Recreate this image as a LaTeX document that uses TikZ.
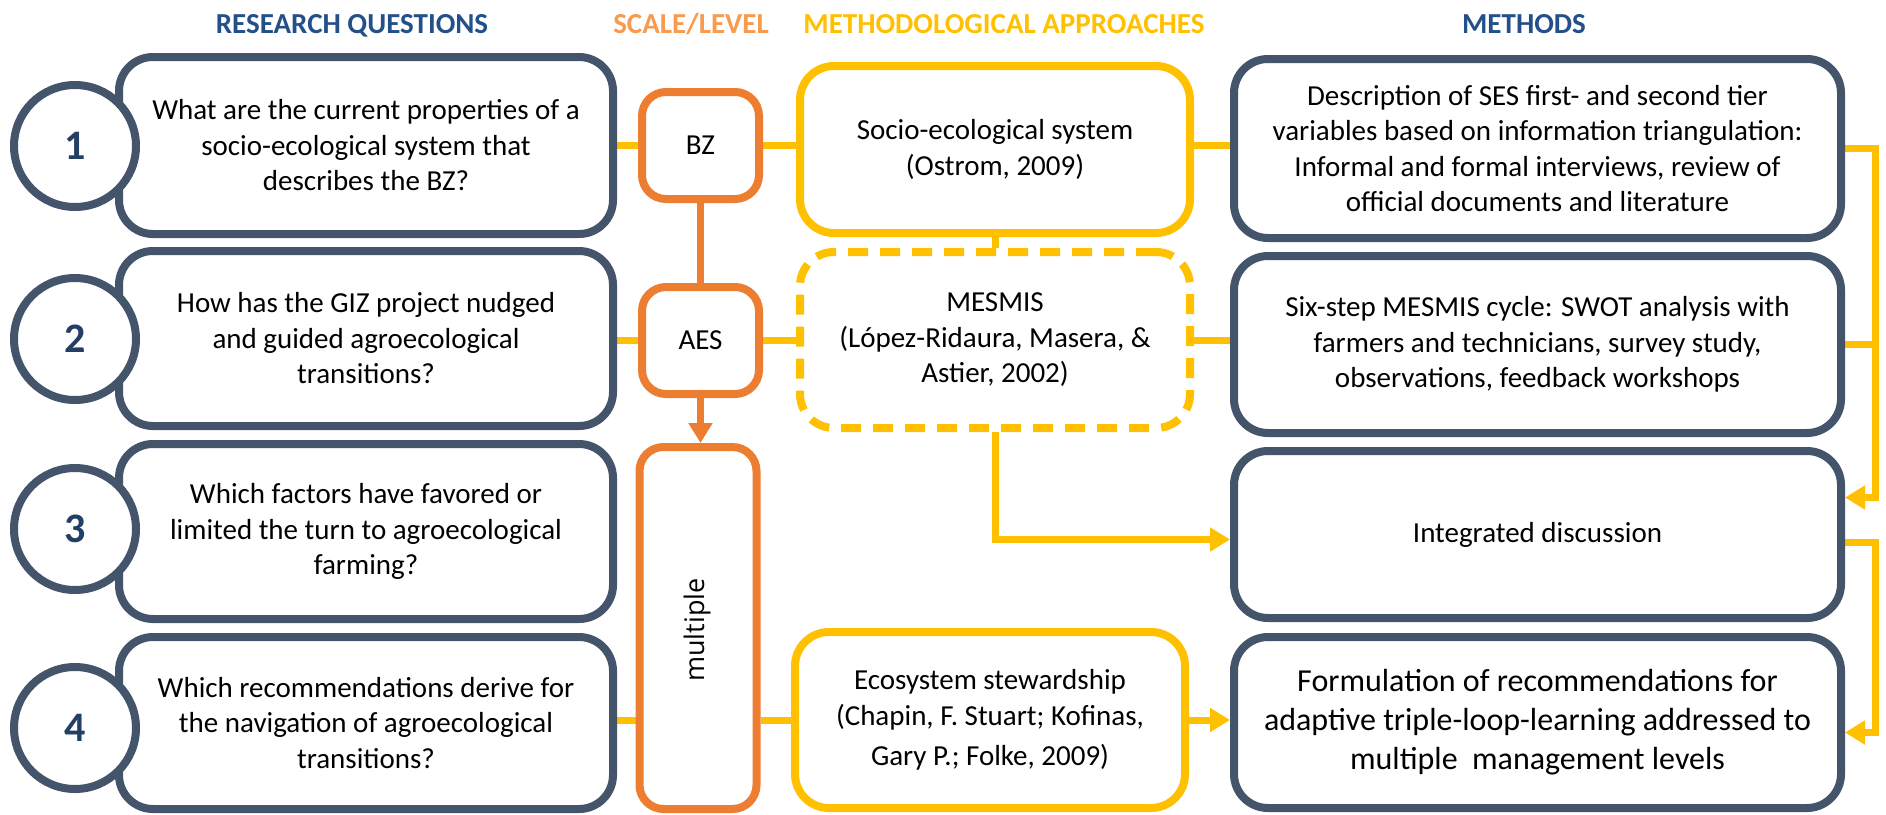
\documentclass[tikz,border=0pt]{standalone}
\usepackage{fontspec}
\setmainfont{Carlito}
\newfontfamily\labelsans{Open Sans}
\usetikzlibrary{arrows.meta}
\pgfdeclarelayer{background}
\pgfdeclarelayer{canvas}
\pgfsetlayers{canvas,background,main}
\definecolor{slate}{HTML}{44546A}
\definecolor{tangerine}{HTML}{ED7D31}
\definecolor{amber}{HTML}{FFC000}
\definecolor{navyhead}{HTML}{24508A}
\definecolor{orangehead}{HTML}{F79B4F}
\definecolor{digit}{HTML}{233F63}

\begin{document}
\begin{tikzpicture}[x=1pt,y=-1pt,
  every node/.style={inner sep=0pt},
  bodytext/.style={align=center, font=\fontsize{29}{35.5}\selectfont},
  head/.style={anchor=base, font=\bfseries\fontsize{29}{35}\selectfont},
  qbox/.style={bodytext, draw=slate, line width=8pt, rounded corners=34pt, fill=white,
    minimum width=494pt},
  numring/.style={circle, draw=slate, line width=8pt, fill=white, minimum size=122pt,
    text=digit, font=\bfseries\fontsize{42}{42}\selectfont},
  lvlbox/.style={bodytext, draw=tangerine, line width=8pt, rounded corners=24pt, fill=white,
    minimum width=117pt},
  apbox/.style={bodytext, draw=amber, line width=8pt, rounded corners=34pt, fill=white,
    minimum width=390pt},
  mbox/.style={bodytext, draw=slate, line width=8pt, rounded corners=34pt, fill=white,
    minimum width=607pt},
  yline/.style={draw=amber, line width=7pt},
  yarrow/.style={yline, -{Triangle[length=20pt,width=23pt]}},
  oline/.style={draw=tangerine, line width=7pt},
  oarrow/.style={oline, -{Triangle[length=20pt,width=23pt]}}
]
\begin{pgfonlayer}{canvas}
  \fill[white] (0,0) rectangle (1886,814);
\end{pgfonlayer}
\useasboundingbox (0,0) rectangle (1886,814);

% column headings
\node[head, text=navyhead]   (hq) at (352,33)  {RESEARCH QUESTIONS};
\node[head, text=orangehead] (hs) at (691,33)  {SCALE/LEVEL};
\node[head, text=amber]      (ha) at (1004,33) {METHODOLOGICAL APPROACHES};
\node[head, text=navyhead]   (hm) at (1524,33) {METHODS};

% research questions
\node[qbox, minimum height=177pt] (q1) at (366,145.5)
  {What are the current properties of a\\socio-ecological system that\\describes the BZ?};
\node[qbox, minimum height=175pt] (q2) at (366,338.5)
  {How has the GIZ project nudged\\and guided agroecological\\transitions?};
\node[qbox, minimum height=175pt] (q3) at (366,531.5)
  {Which factors have favored or\\limited the turn to agroecological\\farming?};
\node[qbox, minimum height=172pt] (q4) at (366,723)
  {Which recommendations derive for\\the navigation of agroecological\\transitions?};

\node[numring] (n1) at (75,146) {1};
\node[numring] (n2) at (75,339) {2};
\node[numring] (n3) at (75,529) {3};
\node[numring] (n4) at (75,728) {4};

% scale / level
\node[lvlbox, minimum height=107pt] (bz)  at (700.5,145.5) {BZ};
\node[lvlbox, minimum height=107pt] (aes) at (700.5,340.5) {AES};
\node[lvlbox, minimum height=362pt] (mult) at (698,628) {};
\node[rotate=90, font=\labelsans\fontsize{27}{27}\selectfont] (multlabel) at (697,630) {multiple};

% methodological approaches
\node[apbox, minimum height=167pt] (ses) at (995,149.5)
  {Socio-ecological system\\(Ostrom, 2009)};
\node[apbox, minimum height=176pt, dash pattern=on 20pt off 12pt] (mesmis) at (995,340)
  {MESMIS\\(López-Ridaura, Masera, \&\\Astier, 2002)};
\node[apbox, minimum height=176pt] (eco) at (990,720)
  {Ecosystem stewardship\\(Chapin, F. Stuart; Kofinas,\\[5pt]Gary P.; Folke, 2009)};

% methods
\node[mbox, minimum height=179pt] (m1) at (1537.5,148.5)
  {Description of SES first- and second tier\\variables based on information triangulation:\\Informal and formal interviews, review of\\official documents and literature};
\node[mbox, minimum height=177pt] (m2) at (1537.5,344.5)
  {Six-step MESMIS cycle: SWOT analysis with\\farmers and technicians, survey study,\\observations, feedback workshops};
\node[mbox, minimum height=167pt] (m3) at (1537.5,534.5)
  {Integrated discussion};
\node[mbox, minimum height=171pt, font=\fontsize{32}{39}\selectfont] (m4) at (1537.5,722.5)
  {Formulation of recommendations for\\adaptive triple-loop-learning addressed to\\multiple\ \ management levels};

\coordinate (rail) at (1875,0);

\begin{pgfonlayer}{background}
  % row 1
  \draw[yline] (q1.east) -- (q1.east -| bz.west);
  \draw[yline] (bz.east) -- (bz.east -| ses.west);
  \draw[yline] (ses.east |- bz.east) -- (bz.east -| m1.west);
  % row 2
  \draw[yline] (aes.west -| q2.east) -- (aes.west);
  \draw[yline] (aes.east) -- (aes.east -| mesmis.west);
  \draw[yline] (mesmis.east) -- (mesmis.east -| m2.west);
  % row 4
  \draw[yline] (eco.east -| q4.east) -- (eco.east -| mult.west);
  \draw[yline] (eco.east -| mult.east) -- (eco.west);
  \draw[yarrow] (eco.east) -- (eco.east -| m4.west);
  % approaches to each other and to the discussion
  \draw[yline] (ses.south) -- (mesmis.north);
  \draw[yarrow] (mesmis.south) |- ([yshift=-5pt]m3.west);
  % feedback rail on the right
  \draw[yarrow] (m1.east) -- (m1.east -| rail) |- ([yshift=37pt]m3.east);
  \draw[yline] (m2.east) -- (m2.east -| rail);
  \draw[yarrow] ([yshift=-7.5pt]m3.east) -- ([yshift=-7.5pt]m3.east -| rail) |- ([yshift=-10pt]m4.east);
  % scale links
  \draw[oline] (bz.south) -- (aes.north);
  \draw[oarrow] (aes.south) -- (aes.south |- mult.north);
\end{pgfonlayer}
\end{tikzpicture}
\end{document}
